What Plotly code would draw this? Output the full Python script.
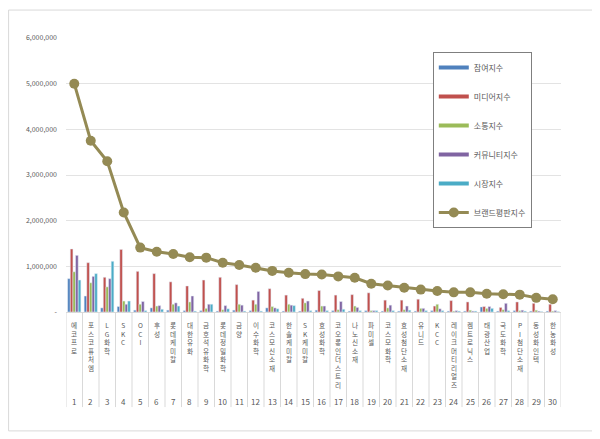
import plotly.graph_objects as go

# 기업명 (1~30위)
companies = ["에코프로", "포스코퓨처엠", "LG화학", "SKC", "OCI", "후성", "롯데케미칼", "대한유화",
             "금호석유화학", "롯데정밀화학", "금양", "이수화학", "코스모신소재", "한솔케미칼", "SK케미칼",
             "효성화학", "코오롱인더스트리", "나노신소재", "파미셀", "코스모화학", "효성첨단소재", "유니드",
             "KCC", "레이크머티리얼즈", "켐트로닉스", "태광산업", "국도화학", "PI첨단소재", "동성화인텍", "한농화성"]
ranks = list(range(1, 31))

participation = [730000, 350000, 90000, 120000, 40000, 90000, 40000, 30000, 30000, 20000,
                 40000, 30000, 90000, 20000, 20000, 40000, 30000, 20000, 30000, 20000,
                 20000, 20000, 30000, 20000, 20000, 110000, 20000, 30000, 20000, 20000]
media = [1380000, 1080000, 760000, 1370000, 890000, 840000, 660000, 570000, 700000, 760000,
         600000, 260000, 510000, 370000, 300000, 470000, 370000, 380000, 420000, 260000,
         260000, 280000, 130000, 250000, 220000, 120000, 100000, 220000, 190000, 170000]
communication = [880000, 640000, 550000, 240000, 170000, 130000, 170000, 220000, 80000, 50000,
                 170000, 170000, 120000, 170000, 200000, 130000, 50000, 130000, 30000, 90000,
                 50000, 80000, 170000, 20000, 40000, 80000, 50000, 30000, 40000, 20000]
community = [1240000, 780000, 730000, 170000, 230000, 140000, 200000, 350000, 170000, 140000,
             150000, 450000, 90000, 150000, 240000, 130000, 230000, 100000, 30000, 150000,
             130000, 80000, 70000, 30000, 20000, 120000, 190000, 40000, 20000, 30000]
market = [700000, 840000, 1110000, 240000, 30000, 60000, 130000, 20000, 170000, 70000,
          20000, 20000, 70000, 140000, 30000, 30000, 60000, 30000, 30000, 30000,
          40000, 30000, 30000, 20000, 20000, 80000, 30000, 20000, 10000, 10000]
brand_index = [5000000, 3750000, 3300000, 2180000, 1410000, 1320000, 1270000, 1200000, 1190000, 1080000,
               1030000, 970000, 900000, 860000, 830000, 820000, 780000, 750000, 620000, 580000,
               530000, 490000, 460000, 430000, 430000, 400000, 390000, 380000, 310000, 280000]

y_ticks = [0, 1000000, 2000000, 3000000, 4000000, 5000000, 6000000]
y_labels = ["-", "1,000,000", "2,000,000", "3,000,000", "4,000,000", "5,000,000", "6,000,000"]

FONT = "Noto Sans CJK KR"

fig = go.Figure()

bar_series = [
    ("참여지수", participation, "#4F81BD"),
    ("미디어지수", media, "#C0504D"),
    ("소통지수", communication, "#9BBB59"),
    ("커뮤니티지수", community, "#8064A2"),
    ("시장지수", market, "#4BACC6"),
]
for name, vals, color in bar_series:
    fig.add_trace(go.Bar(x=ranks, y=vals, name=name, marker_color=color,
                         legendgroup=name, showlegend=False))
    # 범례용 (엑셀처럼 가로 막대 모양 기호)
    fig.add_trace(go.Scatter(x=[None], y=[None], name=name, mode="lines",
                             line=dict(color=color, width=4), legendgroup=name))

fig.add_trace(go.Scatter(x=ranks, y=brand_index, name="브랜드평판지수", mode="lines+markers",
                         line=dict(color="#948A54", width=3),
                         marker=dict(color="#948A54", size=10),
                         legendgroup="brand"))

# 카테고리 라벨 (세로쓰기 + 순위)
for r, name in zip(ranks, companies):
    fig.add_annotation(x=r, y=-0.022, xref="x", yref="paper", text="<br>".join(name),
                       showarrow=False, yanchor="top", xanchor="center",
                       font=dict(family=FONT, size=6.6, color="#595959"))
    fig.add_annotation(x=r, y=-0.325, xref="x", yref="paper", text=str(r),
                       showarrow=False, yanchor="middle", xanchor="center",
                       font=dict(family=FONT, size=8, color="#595959"))

# 카테고리 구분선
for i in range(31):
    fig.add_shape(type="line", xref="x", yref="paper", x0=i + 0.5, x1=i + 0.5, y0=0, y1=-0.347,
                  line=dict(color="#D9D9D9", width=1))

# 외곽 테두리
fig.add_shape(type="rect", xref="paper", yref="paper", x0=-0.116, x1=1.065, y0=-0.434, y1=1.102,
              line=dict(color="#D9D9D9", width=1))

fig.update_layout(
    width=600, height=439,
    margin=dict(l=58, r=47, t=30, b=135),
    paper_bgcolor="white", plot_bgcolor="white",
    barmode="group", bargap=0.2, bargroupgap=0,
    font=dict(family=FONT, color="#595959"),
    legend=dict(x=0.741, y=0.949, xanchor="left", yanchor="top",
                bgcolor="white", bordercolor="#7F7F7F", borderwidth=1,
                font=dict(family=FONT, size=8, color="#595959"),
                tracegroupgap=10, traceorder="grouped"),
    xaxis=dict(range=[0.5, 30.5], showticklabels=False, showgrid=False, zeroline=False,
               showline=True, linecolor="#D9D9D9", ticks=""),
    yaxis=dict(range=[0, 6000000], tickvals=y_ticks, ticktext=y_labels,
               tickfont=dict(family=FONT, size=7, color="#595959"),
               showgrid=True, gridcolor="#E3E3E3", zeroline=False, ticks="", ticklen=0),
)
fig.update_yaxes(ticklabelstandoff=8)

fig.write_html("out.html")
